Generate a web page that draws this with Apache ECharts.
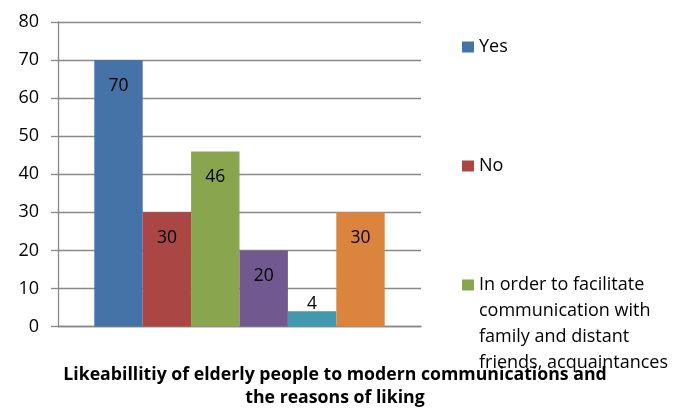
<!DOCTYPE html>
<html>
<head>
<meta charset="utf-8">
<script src="https://cdn.jsdelivr.net/npm/echarts@6/dist/echarts.min.js"></script>
<style>html,body{margin:0;padding:0;background:#fff}#c{width:692px;height:409px}</style>
</head>
<body>
<div id="c"></div>
<script>
const categories = [''];
const seriesNames = ['Yes', 'No', 'In order to facilitate communication with family and distant friends, acquaintances', 'Reason 2', 'Reason 3', 'Reason 4'];
const values = [70, 30, 46, 20, 4, 30];
const yTicks = [0, 10, 20, 30, 40, 50, 60, 70, 80];
const titleLines = ['Likeabillitiy of elderly people to modern communications and', 'the reasons of liking'];
const legendThirdLines = ['In order to facilitate', 'communication with', 'family and distant', 'friends, acquaintances'];

const palette = ['#4572A7', '#AA4643', '#89A54E', '#71588F', '#4198AF', '#DB843D'];
const FONT = 'Open Sans';
const chart = echarts.init(document.getElementById('c'), null, {renderer: 'canvas'});

const series = seriesNames.map((n, i) => ({
  name: n,
  type: 'bar',
  barGap: '0%',
  barCategoryGap: '20%',
  itemStyle: {color: palette[i]},
  label: values[i] < 8
    ? {show: true, position: 'top', distance: -2, color: '#000', fontSize: 17.5, lineHeight: 18, fontFamily: FONT}
    : {show: true, position: 'insideTop', distance: 17, color: '#000', fontSize: 17.5, lineHeight: 18, fontFamily: FONT},
  data: [values[i]]
}));

const legendBase = {
  orient: 'vertical', left: 462, itemWidth: 12, itemHeight: 11, icon: 'rect',
  selectedMode: false, itemGap: 0, padding: 0,
  textStyle: {fontFamily: FONT, fontSize: 18, color: '#000', lineHeight: 26}
};

chart.setOption({
  animation: false,
  title: {
    text: titleLines.join('\n'),
    left: 335, top: 363.5, textAlign: 'center', padding: 0,
    textStyle: {fontFamily: FONT, fontSize: 17.7, fontWeight: 'bold', color: '#000', lineHeight: 23}
  },
  legend: [
    Object.assign({}, legendBase, {top: 47 - 13, data: [seriesNames[0]]}),
    Object.assign({}, legendBase, {top: 166 - 13, data: [seriesNames[1]]}),
    Object.assign({}, legendBase, {
      top: 285 - 13, itemHeight: 104,
      icon: 'path://M0,0M12,104M0,7.5L12,7.5L12,18.5L0,18.5Z',
      data: [seriesNames[2]],
      formatter: () => legendThirdLines.join('\n')
    })
  ],
  grid: {left: 58, right: 271, top: 22, bottom: 82.5, containLabel: false},
  xAxis: {
    type: 'category', data: categories,
    axisLine: {show: true, lineStyle: {color: '#888', width: 1.3}},
    axisTick: {show: false}, axisLabel: {show: false}
  },
  yAxis: {
    type: 'value', min: yTicks[0], max: yTicks[yTicks.length - 1], interval: 10,
    axisLine: {show: true, lineStyle: {color: '#888', width: 1.3}},
    axisTick: {show: true, length: 7, lineStyle: {color: '#888', width: 1.3}},
    axisLabel: {margin: 19, color: '#000', fontSize: 18, fontFamily: FONT},
    splitLine: {show: true, lineStyle: {color: '#888', width: 1.3}}
  },
  series: series
});
</script>
</body>
</html>
